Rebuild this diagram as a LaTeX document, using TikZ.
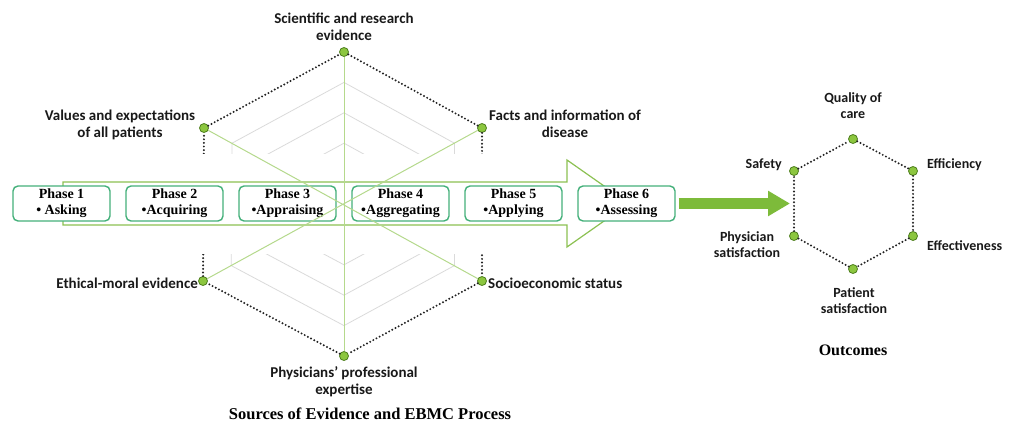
\documentclass[tikz,border=0pt]{standalone}
\usepackage{fontspec}
\setmainfont{Liberation Serif}
\newfontfamily\lblfont{Carlito}
\usepackage{tikz}
\usetikzlibrary{arrows.meta,calc,positioning}
\definecolor{arrowgreen}{HTML}{7DBB3A}
\definecolor{outlinegreen}{HTML}{8CC152}
\definecolor{phaseteal}{HTML}{44B07A}
\definecolor{spokegreen}{HTML}{B5D98C}
\definecolor{webgrey}{HTML}{DADADA}
\definecolor{dotfill}{HTML}{8CC63F}
\definecolor{dotedge}{HTML}{4E7F1E}
\definecolor{dotline}{HTML}{222222}

\begin{document}
\begin{tikzpicture}[x=1pt, y=-1pt,
    vdot/.style={circle, draw=dotedge, fill=dotfill, line width=0.8pt, minimum size=9pt, inner sep=0pt},
    phasebox/.style={draw=phaseteal, line width=1.4pt, rounded corners=5pt, fill=white, minimum width=97pt, minimum height=35pt, inner sep=0pt, align=center, font=\fontsize{14}{16}\selectfont\bfseries},
    lbl/.style={font=\lblfont\fontsize{15}{17}\selectfont\bfseries, inner sep=0pt, align=center, text=black!90},
    olbl/.style={font=\lblfont\fontsize{14}{16}\selectfont\bfseries, inner sep=0pt, align=center, text=black!90},
    dotlink/.style={draw=dotline, line width=2.2pt, line cap=round, dash pattern=on 0pt off 3.6pt},
    web/.style={draw=webgrey, line width=0.8pt},
    spoke/.style={draw=spokegreen, line width=1pt}
]
\useasboundingbox (0,0) rectangle (1011,423);

\coordinate (c) at (344,204);
\node[vdot] (vT) at (344,52) {};
\node[vdot] (vUL) at (204,128) {};
\node[vdot] (vUR) at (482,128) {};
\node[vdot] (vLL) at (203,281) {};
\node[vdot] (vLR) at (482,281) {};
\node[vdot] (vB) at (344,356) {};

\foreach \l in {0.2,0.4,0.6,0.8}
  \draw[web] ($(c)!\l!(vT)$) -- ($(c)!\l!(vUR)$) -- ($(c)!\l!(vLR)$) -- ($(c)!\l!(vB)$) -- ($(c)!\l!(vLL)$) -- ($(c)!\l!(vUL)$) -- cycle;
\draw[dotlink] (vUL) -- (vT) -- (vUR) -- (vLR) -- (vB) -- (vLL) -- (vUL);

\fill[white] (0,154) rectangle (640,254);
\draw[outlinegreen, line width=1.2pt] (63,182) -- (567,182) -- (567,160) -- (629,203.5) -- (567,247) -- (567,225) -- (63,225) -- cycle;

\foreach \i/\task in {1/{\textbullet\ Asking},2/{\textbullet Acquiring},3/{\textbullet Appraising},4/{\textbullet Aggregating},5/{\textbullet Applying},6/{\textbullet Assessing}}
  \node[phasebox] (ph\i) at ({61.5+113*(\i-1)},203.5) {Phase \i\\\task};

\draw[spoke] (vT) -- (vB);
\draw[spoke] (vUL) -- (vLR);
\draw[spoke] (vUR) -- (vLL);

\node[lbl] (lT) at (344,27) {Scientific and research\\evidence};
\node[lbl] (lUL) at (120,124.5) {Values and expectations\\of all patients};
\node[lbl] (lUR) at (565,124) {Facts and information of\\disease};
\node[lbl, anchor=base east] (lLL) at (198,288) {Ethical-moral evidence};
\node[lbl, anchor=base west] (lLR) at (488,288) {Socioeconomic status};
\node[lbl] (lB) at (344,381.5) {Physicians’ professional\\expertise};

\node[vdot] (oQ) at (853,139) {};
\node[vdot] (oS) at (794,171) {};
\node[vdot] (oE) at (913,171) {};
\node[vdot] (oP) at (794,236) {};
\node[vdot] (oF) at (913,236) {};
\node[vdot] (oT) at (853,269) {};
\draw[dotlink] (oS) -- (oQ) -- (oE) -- (oF) -- (oT) -- (oP) -- (oS);

\coordinate (tipOut) at (790,203.5);
\draw[arrowgreen, line width=11pt, shorten <=3pt, -{Triangle[length=22pt,width=24pt]}] (ph6) -- (tipOut);

\node[olbl] (lQ) at (853,106) {Quality of\\care};
\node[olbl, anchor=base east] (lS) at (782,168) {Safety};
\node[olbl, anchor=base west] (lE) at (927,168) {Efficiency};
\node[olbl] (lP) at (747,245) {Physician\\satisfaction};
\node[olbl, anchor=base west] (lF) at (927,250) {Effectiveness};
\node[olbl] (lPt) at (854,301) {Patient\\satisfaction};
\node[font=\fontsize{16}{19}\selectfont\bfseries, inner sep=0pt] (lOut) at (853,350) {Outcomes};
\node[font=\fontsize{16.5}{19}\selectfont\bfseries, inner sep=0pt, anchor=base] (lSrc) at (370,419) {Sources of Evidence and EBMC Process};
\end{tikzpicture}
\end{document}
